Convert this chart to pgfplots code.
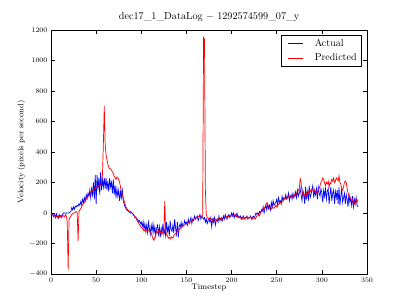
\documentclass[border=0pt]{standalone}
\usepackage{pgfplots}
\usepackage{pgfplotstable}
\pgfplotsset{compat=1.18}
\usetikzlibrary{calc}

\pgfplotstableread{
y
0
-10
-5
-25
-10
-30
-5
-20
-35
-10
-25
-15
-30
-5
0
0
0
0
0
0
0
5
10
35
20
40
25
45
40
50
45
60
50
75
55
90
70
100
80
120
95
130
110
150
100
160
120
200
90
250
60
250
150
230
120
270
150
220
170
230
160
230
150
210
140
230
170
200
130
220
120
180
100
160
110
150
80
140
100
150
80
60
40
30
20
15
10
5
0
5
-5
-10
-20
-30
-25
-45
-40
-60
-50
-70
-60
-90
-55
-110
-70
-120
-80
-130
-60
-100
-140
-80
-120
-70
-130
-90
-150
-100
-80
-140
-90
-160
-100
-130
-70
-140
-110
-150
-60
-120
-90
-150
-50
-110
-120
-80
-130
-40
-100
-140
-60
-160
-90
-70
-100
-60
-90
-80
-50
-70
-60
-80
-40
-70
-50
-30
-70
-40
-50
-20
-40
-30
-20
-50
-30
-10
-40
-20
-30
-40
-30
-60
-40
-70
-50
-40
-60
-30
-90
-40
-60
-30
-80
-50
-40
-60
-20
-50
-40
-30
-50
-20
-40
-10
-30
-40
-20
-10
-30
-20
0
-20
0
-30
-10
-20
0
-30
-20
-30
-20
-40
-30
-20
-40
-30
-30
-20
-40
-30
-30
-20
-40
-30
-20
-30
-20
0
-10
0
-10
10
0
20
10
40
0
30
50
20
60
30
50
20
70
40
80
50
60
70
90
50
100
70
80
60
110
80
100
90
120
90
100
130
80
110
120
90
130
100
120
140
100
150
110
130
160
120
80
150
120
60
170
100
140
80
180
100
120
150
180
100
150
120
160
90
170
130
110
160
130
70
150
110
160
90
140
160
60
120
170
80
130
150
60
140
100
150
60
170
50
110
160
70
100
130
60
120
90
40
130
70
100
50
110
40
90
60
100
50
40
}\actual

\pgfplotstableread{
y
-10
-10
-15
-20
-15
-25
-20
-30
-25
-20
-30
-20
-25
-15
-20
-25
-10
-20
-60
-370
-40
-30
-20
-10
-5
0
0
5
10
5
-185
10
20
30
40
55
60
70
80
90
100
110
115
120
130
140
150
155
160
165
170
170
180
175
185
190
200
250
450
700
450
380
350
320
300
290
290
280
270
260
240
230
220
235
230
220
200
170
140
120
100
80
60
40
30
20
15
10
10
5
0
-5
-15
-25
-35
-45
-55
-65
-75
-85
-95
-100
-110
-115
-115
-110
-120
-115
-110
-120
-125
-130
-150
-170
-180
-160
-140
-120
-130
-115
-130
-120
-140
-130
-125
-130
80
-120
-140
-150
-165
-160
-170
-155
-160
-165
-150
-140
-135
-130
-120
-115
-110
-100
-95
-90
-85
-80
-80
-75
-70
-70
-65
-60
-55
-60
-50
-45
-40
-40
-35
-30
-30
-25
-20
-25
-30
-20
-20
1150
1140
150
-10
-30
-35
-40
-30
-45
-40
-50
-35
-45
-40
-50
-40
-35
-45
-40
-35
-50
-40
-35
-30
-30
-25
-20
-25
-20
-15
-20
-20
-15
-20
-10
-20
-25
-20
-30
-25
-30
-35
-30
-40
-30
-35
-40
-30
-25
-30
-35
-30
-25
-30
-40
-35
-30
-40
-30
-20
-20
-10
-20
0
10
20
30
25
40
55
65
50
45
30
35
25
40
35
30
40
50
40
50
55
60
70
65
75
80
90
100
95
100
110
105
110
100
105
110
100
110
120
110
130
140
150
160
225
200
140
120
110
120
100
130
120
140
130
150
140
160
150
140
150
130
140
130
150
160
180
200
210
230
220
200
180
200
190
210
170
200
190
220
210
230
200
210
230
220
210
245
200
190
160
150
170
200
210
200
160
130
110
100
90
80
90
70
60
80
90
70
90
}\predicted

\begin{document}
\begin{tikzpicture}
\begin{axis}[
  scale only axis,
  width=316pt, height=244pt,
  xmin=0, xmax=350, ymin=-400, ymax=1200,
  xtick={0,50,...,350},
  ytick={-400,-200,...,1200},
  /pgf/number format/1000 sep={},
  tick align=inside,
  xtick pos=both, ytick pos=both,
  major tick length=4pt,
  axis line style={line width=0.8pt},
  tick style={black, line width=0.5pt},
  tick label style={font=\fontsize{7.5}{9}\selectfont},
  title={dec17\_1\_DataLog $-$ 1292574599\_07\_y},
  title style={font=\fontsize{10.2}{12}\selectfont, at={(0.5,1)}, anchor=base, yshift=4pt, inner sep=0pt},
  xlabel={Timestep},
  ylabel={Velocity (pixels per second)},
  label style={font=\fontsize{8}{9}\selectfont},
  xlabel style={yshift=5pt},
  ylabel style={yshift=-3pt},
  legend style={at={(1,1)}, xshift=-5pt, yshift=-5pt, anchor=north east, draw=black, line width=0.8pt,
    font=\fontsize{10}{11}\selectfont, inner xsep=5pt, inner ysep=1pt, row sep=0pt,
    nodes={inner sep=0pt}},
  legend cell align=left,
  legend image code/.code={\path[draw=none,fill=none] (0pt,-7.2pt) rectangle (28.5pt,7.2pt);
    \draw[#1, line width=0.8pt] (1.5pt,0pt) -- (16.5pt,0pt);},
]
\addplot[blue, line width=0.7pt] table[x expr=\coordindex, y=y] {\actual};
\addlegendentry{Actual}
\addplot[red, line width=0.7pt] table[x expr=\coordindex, y=y] {\predicted};
\addlegendentry{Predicted}
\end{axis}
\pgfresetboundingbox
\path ($(current axis.south west)+(-51pt,-31pt)$) rectangle ($(current axis.north east)+(40pt,30pt)$);
\end{tikzpicture}
\end{document}
